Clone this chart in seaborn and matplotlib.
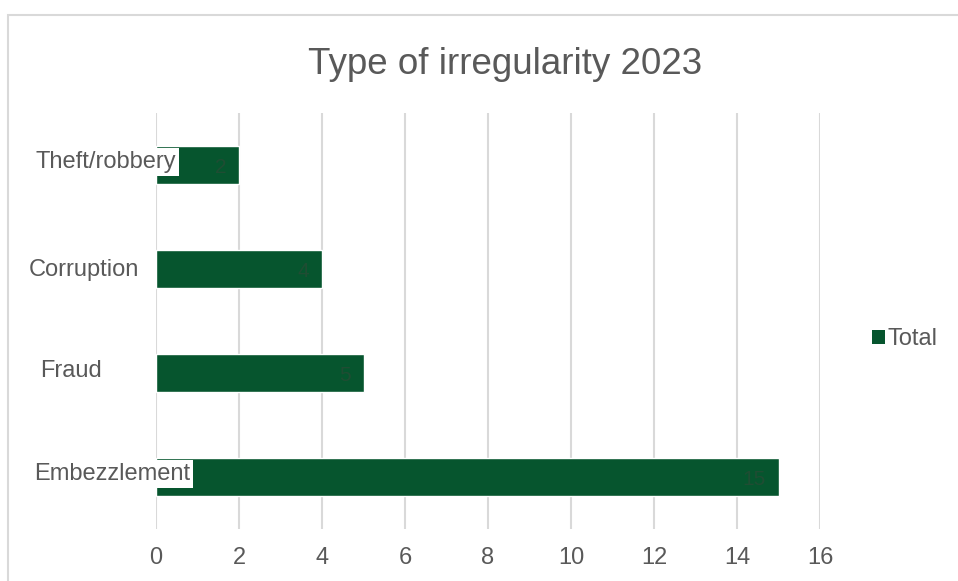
import matplotlib
matplotlib.use("Agg")
import matplotlib.pyplot as plt
import seaborn as sns
import pandas as pd
from matplotlib.patches import Rectangle, Patch

categories = ["Theft/robbery", "Corruption", "Fraud", "Embezzlement"]
values = [2, 4, 5, 15]
series_name = "Total"
title = "Type of irregularity 2023"
xticks = [0, 2, 4, 6, 8, 10, 12, 14, 16]

# label layout (right edge in pixels from figure left, vertical shift in px)
label_right_px = [176, 139, 102, 190]
label_dy_px = [3, -1, 2, 3]

BAR = "#06552e"
GRID = "#d9d9d9"
TXT = "#595959"

sns.set_theme(style="white")
plt.rcParams["font.family"] = ["Liberation Sans", "DejaVu Sans"]

W, H = 958, 581
fig = plt.figure(figsize=(W / 100, H / 100), dpi=100)
ax = fig.add_axes([156 / W, 1 - 529 / H, (820 - 156) / W, (529 - 113) / H])

df = pd.DataFrame({"category": categories, "value": values, "series": series_name})
sns.barplot(data=df, x="value", y="category", hue="series", palette=[BAR],
            order=categories, width=0.36, ax=ax, legend=True, saturation=1)

ax.set_xlim(0, 16)
ax.set_xticks(xticks)
ax.set_xticklabels([str(t) for t in xticks], fontsize=17, color=TXT)
ax.tick_params(axis="x", length=0, pad=13)
ax.set_yticks(range(len(categories)))
ax.set_yticklabels([])
ax.tick_params(axis="y", length=0)
ax.set_xlabel("")
ax.set_ylabel("")
for s in ax.spines.values():
    s.set_visible(False)
ax.grid(axis="x", color=GRID, linewidth=1.5)
ax.grid(axis="y", visible=False)
ax.set_axisbelow(True)

# faint data labels
for i, v in enumerate(values):
    ax.annotate(str(v), (v, i), xytext=(-9, -2), textcoords="offset points",
                ha="right", va="center", fontsize=15, color="#1f4d33")

# category labels with white backgrounds
trans = matplotlib.transforms.blended_transform_factory(fig.transFigure, ax.transData)
for i, (c, rx, dy) in enumerate(zip(categories, label_right_px, label_dy_px)):
    t = ax.text(rx / W, i, c, transform=trans, ha="right", va="center",
                fontsize=17, color=TXT, clip_on=False,
                bbox=dict(facecolor="white", edgecolor="none", pad=2))
    t.set_transform(trans + matplotlib.transforms.ScaledTranslation(0, dy / 100, fig.dpi_scale_trans))

# legend
leg = ax.legend(handles=[Patch(facecolor=BAR, edgecolor="none", label=series_name)],
                loc="center left", bbox_to_anchor=(872 / W, 1 - 339 / H),
                bbox_transform=fig.transFigure, frameon=False, fontsize=17,
                handlelength=0.55, handleheight=0.55, handletextpad=0.1,
                borderpad=0, borderaxespad=0)
for t in leg.get_texts():
    t.set_color(TXT)

fig.text(505 / W, 1 - 64 / H, title, ha="center", va="center", fontsize=26.5, color=TXT)

# outer chart border
fig.patches.append(Rectangle((8 / W, -0.1), 1.2, 1 - 15 / H + 0.1, transform=fig.transFigure,
                             fill=False, edgecolor=GRID, linewidth=1.5))

fig.savefig("out.png", dpi=100, facecolor="white")
